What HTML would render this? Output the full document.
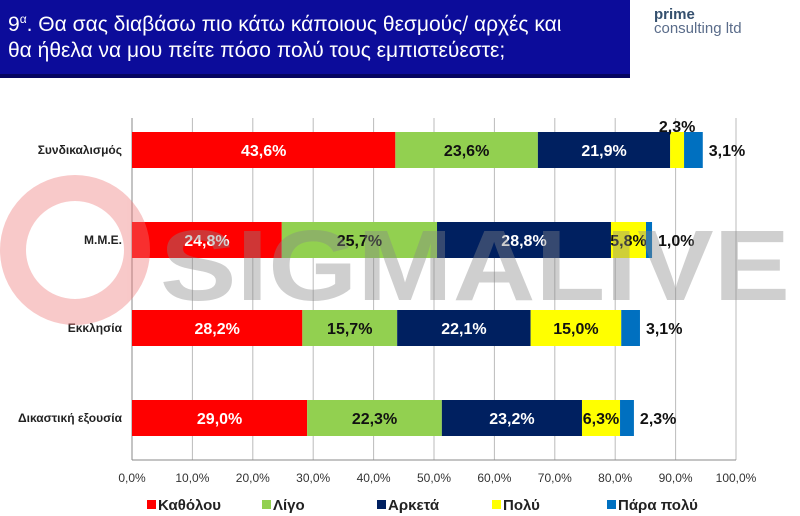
<!DOCTYPE html>
<html><head><meta charset="utf-8">
<style>
body{margin:0;width:800px;height:516px;background:#fff;overflow:hidden;position:relative;font-family:"Liberation Sans","DejaVu Sans",sans-serif}
#hdr{position:absolute;left:0;top:0;width:630px;height:78px;background:#0c0c9a;border-bottom:4px solid #050560;color:#fff;font-size:21px;line-height:26px;padding:6px 0 0 8px;box-sizing:border-box}
#logo{position:absolute;left:654px;top:8px;color:#5a6c8a;font-size:15px;line-height:14px}
svg{position:absolute;left:0;top:0}
</style></head><body>
<div id="hdr">9<sup style="font-size:12px">α</sup>. Θα σας διαβάσω πιο κάτω κάποιους θεσμούς/ αρχές και<br>θα ήθελα να μου πείτε πόσο πολύ τους εμπιστεύεστε;</div>
<div id="logo"><b style="color:#35506e">prime</b><br>consulting ltd</div>
<svg id="c" width="800" height="516"></svg>
<script>
const categories=["Συνδικαλισμός","Μ.Μ.Ε.","Εκκλησία","Δικαστική εξουσία"];
const seriesNames=["Καθόλου","Λίγο","Αρκετά","Πολύ","Πάρα πολύ"];
const katholou=[43.6,24.8,28.2,29.0];
const ligo=[23.6,25.7,15.7,22.3];
const arketa=[21.9,28.8,22.1,23.2];
const poly=[2.3,5.8,15.0,6.3];
const parapoly=[3.1,1.0,3.1,2.3];
const ticks=[0,10,20,30,40,50,60,70,80,90,100];
const colors=["#ff0000","#92d050","#002060","#ffff00","#0070c0"];
const txtColors=["#fff","#111","#fff","#111","#111"];
const series=[katholou,ligo,arketa,poly,parapoly];
const NS="http://www.w3.org/2000/svg";
const svg=document.getElementById('c');
const x0=132,x1=736,yTop=118,yBot=460;
const xs=v=>x0+(x1-x0)*v/100;
const rowC=[150,240,328,418], bh=36;
function mk(t,a,p){const e=document.createElementNS(NS,t);for(const k in a)e.setAttribute(k,a[k]);(p||svg).appendChild(e);return e;}
ticks.forEach(t=>{
 const l=mk('line',{x1:xs(t),x2:xs(t),y1:yTop,y2:yBot,stroke:'#bbb'});
 
 
 const tx=mk('text',{x:xs(t),y:482,"text-anchor":"middle","font-size":12,fill:'#333'});
 
 
 tx.textContent=t.toFixed(1).replace('.',',')+'%';
});
mk('line',{x1:x0,x2:x0,y1:yTop,y2:yBot,stroke:'#888'});
mk('line',{x1:x0,x2:x1,y1:yBot,y2:yBot,stroke:'#888'});
categories.forEach((c,i)=>{
 const cy=rowC[i];
 const lb=mk('text',{x:122,y:cy+4,"text-anchor":"end","font-size":12,"font-weight":"bold",fill:'#222'});
 
 
 lb.textContent=c;
 let acc=0;
 series.forEach((s,j)=>{
  const v=s[i];
  const r=mk('rect',{x:xs(acc),y:cy-bh/2,width:xs(acc+v)-xs(acc),height:bh,fill:colors[j]});
  
  
  let lx=(xs(acc)+xs(acc+v))/2, ly=cy+6, fill=txtColors[j], anchor='middle';
  if(v<4){
   if(j==4){lx=xs(acc+v)+6;anchor='start';fill='#111';}
   else {ly=cy-18;fill='#111';}
  }
  const t=mk('text',{x:lx,y:ly,"text-anchor":anchor,"font-size":16,"font-weight":"bold",fill:fill});
  
  
  t.textContent=v.toFixed(1).replace('.',',')+'%';
  acc+=v;
 });
});
// watermark over bars
const wm=mk('g',{opacity:0.4});


mk('circle',{cx:75,cy:250,r:62,fill:'none',stroke:'#e77',"stroke-width":26},wm);
const wt=mk('text',{x:160,y:300,"font-size":100,"font-weight":"bold",fill:'#888',textLength:630,lengthAdjust:'spacingAndGlyphs'},wm);wt.textContent='SIGMALIVE';
const lx=[147,262,377,492,607];
seriesNames.forEach((n,j)=>{
 const g=mk('g',{});
 
 
 mk('rect',{x:lx[j],y:500,width:9,height:9,fill:colors[j]},g);
 const t=mk('text',{x:lx[j]+11,y:510,"font-size":15,"font-weight":"bold",fill:'#222'},g);t.textContent=n;
});
</script>
</body></html>
